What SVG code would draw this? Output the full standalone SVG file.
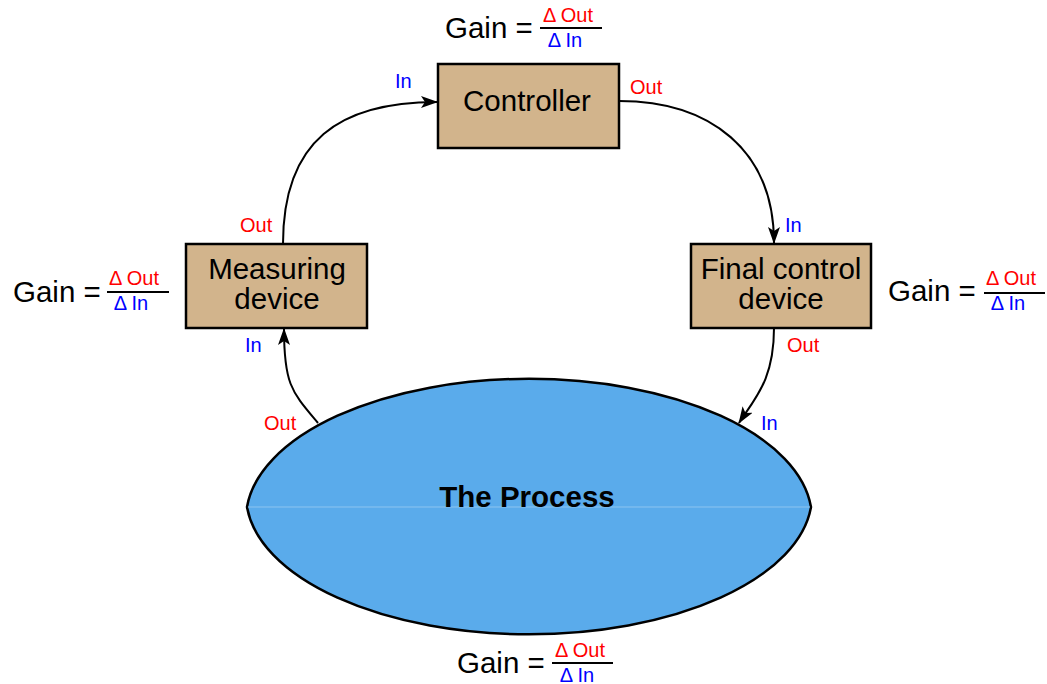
<svg xmlns="http://www.w3.org/2000/svg" width="1047" height="684" viewBox="0 0 1047 684">
<style>
text{font-family:"Liberation Sans",Arial,sans-serif}
.big{font-size:29.5px;fill:#000}
.fr{font-size:20px}
.port{font-size:20px}
.red{fill:#ff0000}
.blue{fill:#0000ff}
.box{fill:#d2b48c;stroke:#000;stroke-width:2.5}
.conn{fill:none;stroke:#000;stroke-width:2}
.bar{stroke:#000;stroke-width:2}
</style>
<defs>
<marker id="arr" markerUnits="userSpaceOnUse" markerWidth="20" markerHeight="14" refX="16" refY="6" orient="auto">
<path d="M0,0 L17,6 L0,12 L4,6 Z" fill="#000"/>
</marker>
</defs>
<g id="connectors">
<path class="conn" d="M283,244 C283,140 340,102 437,102" marker-end="url(#arr)"/>
<path class="conn" d="M619,101 C710,101 774,150 774,243" marker-end="url(#arr)"/>
<path class="conn" d="M774,328 C774,380 755,398 739,423" marker-end="url(#arr)"/>
<path class="conn" d="M318,423 C292,392 284,385 284,329" marker-end="url(#arr)"/>
</g>
<g id="process">
<path d="M247,507 A283 140 0 0 1 811,507 A283 139 0 0 1 247,507 Z" fill="#5aabeb" stroke="#000" stroke-width="2.5"/>
<line x1="248" y1="507" x2="810" y2="507" stroke="#8cc4f0" stroke-width="1"/>
<text class="big" x="527" y="507" text-anchor="middle" font-weight="bold">The Process</text>
<text class="port red" x="264" y="430">Out</text>
<text class="port blue" x="761" y="430">In</text>
</g>
<g id="controller">
<rect class="box" x="438" y="64" width="181" height="84"/>
<text class="big" x="527" y="111" text-anchor="middle">Controller</text>
<text class="port blue" x="395" y="88">In</text>
<text class="port red" x="630" y="94">Out</text>
</g>
<g id="measuring">
<rect class="box" x="186" y="244" width="181" height="84"/>
<text class="big" x="277" y="279" text-anchor="middle">Measuring</text>
<text class="big" x="277" y="309" text-anchor="middle">device</text>
<text class="port red" x="240" y="232">Out</text>
<text class="port blue" x="245" y="352">In</text>
</g>
<g id="final">
<rect class="box" x="691" y="244" width="180" height="84"/>
<text class="big" x="781" y="279" text-anchor="middle">Final control</text>
<text class="big" x="781" y="309" text-anchor="middle">device</text>
<text class="port blue" x="785" y="232">In</text>
<text class="port red" x="787" y="352">Out</text>
</g>
<g id="gain-top">
<text class="big" x="445" y="38">Gain =</text>
<text class="fr red" x="568" y="22" text-anchor="middle">Δ Out</text>
<line class="bar" x1="540" y1="28" x2="602" y2="28"/>
<text class="fr blue" x="565" y="47" text-anchor="middle">Δ In</text>
</g>
<g id="gain-left">
<text class="big" x="13" y="302">Gain =</text>
<text class="fr red" x="134" y="285" text-anchor="middle">Δ Out</text>
<line class="bar" x1="107" y1="292" x2="169" y2="292"/>
<text class="fr blue" x="131" y="310" text-anchor="middle">Δ In</text>
</g>
<g id="gain-right">
<text class="big" x="888" y="301">Gain =</text>
<text class="fr red" x="1011" y="285" text-anchor="middle">Δ Out</text>
<line class="bar" x1="984" y1="293" x2="1045" y2="293"/>
<text class="fr blue" x="1008" y="310" text-anchor="middle">Δ In</text>
</g>
<g id="gain-bottom">
<text class="big" x="457" y="673">Gain =</text>
<text class="fr red" x="580" y="657" text-anchor="middle">Δ Out</text>
<line class="bar" x1="552" y1="663" x2="613" y2="663"/>
<text class="fr blue" x="577" y="682" text-anchor="middle">Δ In</text>
</g>
</svg>
